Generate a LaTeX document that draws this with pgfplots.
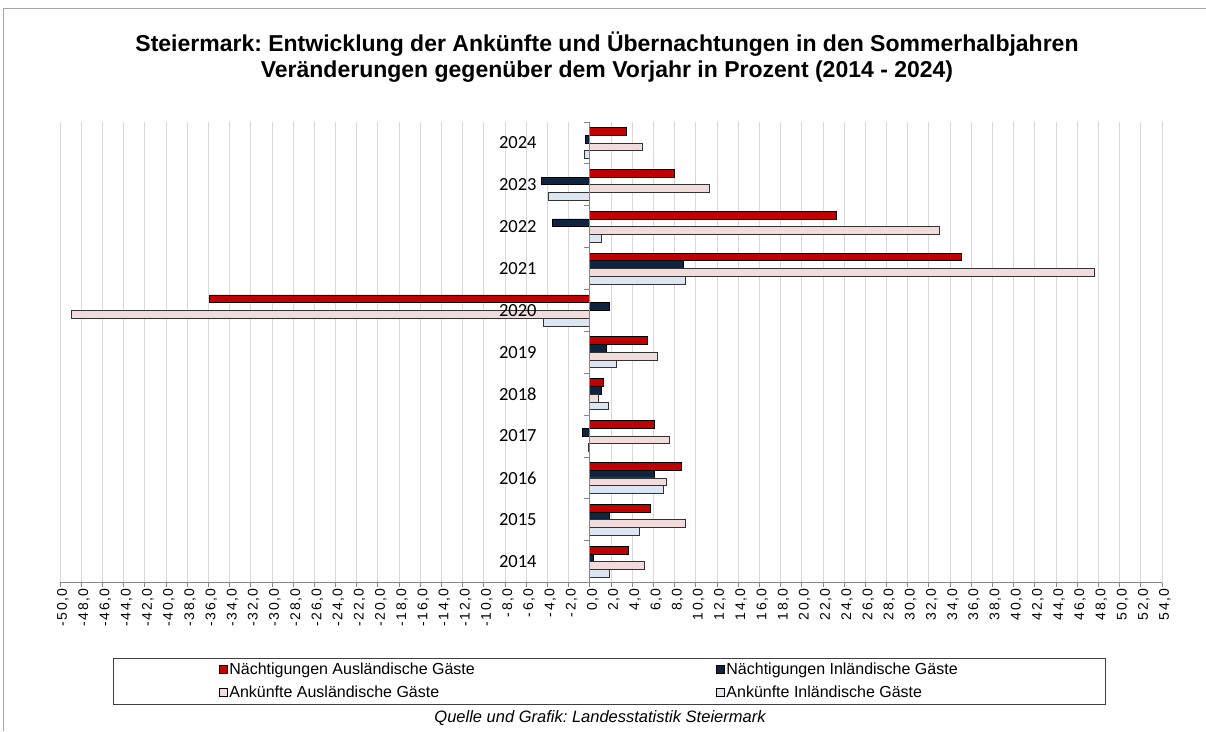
\documentclass[border=0pt]{standalone}
\usepackage{fontspec}
\setmainfont{Liberation Sans}
\newfontfamily\carlito{Carlito}
\newfontfamily\ticklabelfont[LetterSpace=10]{Liberation Sans}
\usepackage{pgfplots}
\pgfplotsset{compat=1.18}
\usepackage{pgfplotstable}
\definecolor{cRed}{HTML}{C00000}
\definecolor{cNavy}{HTML}{0F243E}
\definecolor{cPink}{HTML}{F2DCDB}
\definecolor{cLight}{HTML}{DCE6F2}
\definecolor{cGrid}{HTML}{D9D9D9}
\definecolor{cAxis}{HTML}{868686}
\definecolor{cFrame}{HTML}{A6A6A6}
\pgfplotstableread{
year NA NI AA AI
2014 3.6 0.3 5.1 1.8
2015 5.7 1.8 9.0 4.7
2016 8.6 6.1 7.2 6.9
2017 6.1 -0.7 7.5 -0.15
2018 1.3 1.1 0.8 1.7
2019 5.4 1.6 6.4 2.5
2020 -35.9 1.8 -48.9 -4.4
2021 35.1 8.8 47.6 9.0
2022 23.3 -3.5 33.0 1.1
2023 8.0 -4.6 11.3 -3.9
2024 3.4 -0.45 5.0 -0.55
}\datatable
\frenchspacing
\begin{document}
\begin{tikzpicture}
\useasboundingbox (0pt,0pt) rectangle (1206pt,731pt);
\draw[cFrame, line width=0.8pt] (3pt,0pt) -- (3pt,723pt) -- (1206pt,723pt);
\node[font=\bfseries\fontsize{23}{26}\selectfont, align=center] at (607pt,674pt)
  {Steiermark: Entwicklung der Ankünfte und Übernachtungen in den Sommerhalbjahren\\
   Veränderungen gegenüber dem Vorjahr in Prozent (2014 - 2024)};
\begin{axis}[
  at={(60pt,148.5pt)}, anchor=south west,
  scale only axis, width=1102pt, height=460.5pt,
  xmin=-50, xmax=54, ymin=2013.5, ymax=2024.5,
  axis x line*=bottom, axis y line=none,
  axis line style={cAxis, line width=0.8pt},
  xtick={-50,-48,...,54}, ytick=\empty,
  tick align=outside, major tick length=5pt,
  tick style={cAxis, line width=0.8pt},
  xmajorgrids, grid style={cGrid, line width=0.8pt},
  /pgf/number format/.cd, use comma, fixed, fixed zerofill, precision=1, 1000 sep={}, assume math mode=true,
  /pgfplots/.cd,
  xticklabel style={rotate=90, anchor=east, font=\ticklabelfont\fontsize{14}{14}\selectfont, inner sep=1pt, yshift=-3pt},
  xbar, bar width=0.185,
  legend image code/.code={\draw[#1,draw=black,line width=0.6pt] (0pt,-4pt) rectangle (8pt,4pt);},
  legend columns=2,
  legend style={at={(0.1416,-0.166)}, anchor=north west, draw=none, fill=none,
    font=\fontsize{16}{18}\selectfont, row sep=7pt,
    nodes={inner sep=1.5pt},
    /tikz/every even column/.append style={column sep=240pt}},
  legend cell align=left,
]
\addplot[fill=cRed, draw=black, line width=0.6pt, bar shift=0.2775] table[x=NA, y=year]{\datatable};
\addlegendentry{Nächtigungen Ausländische Gäste}
\addplot[fill=cNavy, draw=black, line width=0.6pt, bar shift=0.0925] table[x=NI, y=year]{\datatable};
\addlegendentry{Nächtigungen Inländische Gäste}
\addplot[fill=cPink, draw=black!80, line width=0.6pt, bar shift=-0.0925] table[x=AA, y=year]{\datatable};
\addlegendentry{Ankünfte Ausländische Gäste}
\addplot[fill=cLight, draw=black!80, line width=0.6pt, bar shift=-0.2775] table[x=AI, y=year]{\datatable};
\addlegendentry{Ankünfte Inländische Gäste}
\draw[cAxis, line width=0.8pt] (axis cs:0,2013.5) -- (axis cs:0,2024.5);
\pgfplotsinvokeforeach{2013.5,2014.5,2015.5,2016.5,2017.5,2018.5,2019.5,2020.5,2021.5,2022.5,2023.5,2024.5}{
  \draw[cAxis, line width=0.8pt] (axis cs:0,#1) -- ++(-6pt,0pt);
}
\pgfplotsinvokeforeach{2014,2015,2016,2017,2018,2019,2020,2021,2022,2023,2024}{
  \node[anchor=east, inner sep=0pt, font=\carlito\fontsize{18.5}{18.5}\selectfont] at (axis cs:0,#1) [xshift=-53pt] {#1};
}
\end{axis}
\draw[black!75, line width=1pt] (113pt,27pt) rectangle (1105pt,73pt);
\node[font=\itshape\fontsize{16.5}{16.5}\selectfont] at (600pt,13pt) {Quelle und Grafik: Landesstatistik Steiermark};
\end{tikzpicture}
\end{document}
